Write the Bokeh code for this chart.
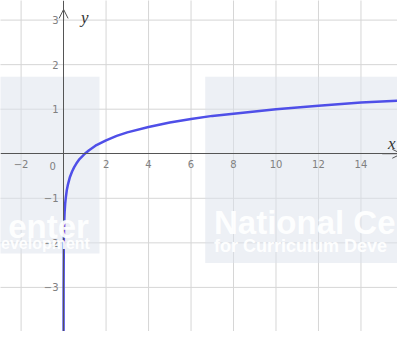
from bokeh.plotting import figure
from bokeh.models import (LinearAxis, FixedTicker, Label, Arrow, OpenHead,
                          ColumnDataSource, Range1d, CustomJSTickFormatter)
from bokeh.embed import file_html
from bokeh.resources import INLINE

# ---- data (curve y = log(x)) ----
curve_x = [0.0001, 0.001, 0.01, 0.02, 0.03, 0.05, 0.075, 0.1, 0.15, 0.2, 0.3,
           0.4, 0.5, 0.6, 0.75, 0.9, 1.0, 1.2, 1.5, 2.0, 2.5, 3.0, 4.0, 5.0,
           6.0, 7.0, 8.0, 10.0, 12.0, 14.0, 16.0]
curve_y = [-4.0, -3.0, -2.0, -1.7, -1.52, -1.3, -1.12, -1.0, -0.82, -0.7,
           -0.52, -0.4, -0.3, -0.22, -0.12, -0.05, 0.0, 0.08, 0.18, 0.3, 0.4,
           0.48, 0.6, 0.7, 0.78, 0.85, 0.9, 1.0, 1.08, 1.15, 1.2]

x_ticks = [-2, 2, 4, 6, 8, 10, 12, 14]
y_ticks = [-3, -2, -1, 1, 2, 3]
x_grid = [-2, 2, 4, 6, 8, 10, 12, 14]
y_grid = [-3, -2, -1, 1, 2, 3]

# watermark texts as visible in the picture
wm_texts = ["National Ce", "for Curriculum Deve", "enter", "evelopment"]

W, H = 397, 331
p = figure(width=W, height=H, output_backend="svg", toolbar_location=None,
           x_range=Range1d(-2.97, 15.72), y_range=Range1d(-3.99, 3.44),
           x_axis_type=None, y_axis_type=None, min_border=0,
           background_fill_color="white", border_fill_color="white")
p.outline_line_color = None
p.xgrid.visible = False
p.ygrid.visible = False

grid_col = "#d6d6d6"
p.segment(x0=x_grid, x1=x_grid, y0=[-5] * len(x_grid), y1=[5] * len(x_grid),
          line_color=grid_col, line_width=1)
p.segment(x0=[-4] * len(y_grid), x1=[17] * len(y_grid), y0=y_grid, y1=y_grid,
          line_color=grid_col, line_width=1)

# watermark (light overlay)
p.quad(left=[6.67, -4], right=[17, 1.69], top=[1.73, 1.73], bottom=[-2.45, -2.24],
       fill_color="#dce1ec", fill_alpha=0.5, line_color=None)
wm = dict(text_color="white", text_font_style="bold", text_alpha=0.95,
          text_font="Liberation Sans", text_baseline="alphabetic")
p.add_layout(Label(x=7.08, y=-1.55, text=wm_texts[0], text_font_size="33px", **wm))
p.add_layout(Label(x=7.08, y=-2.06, text=wm_texts[1], text_font_size="18px", **wm))
p.add_layout(Label(x=1.19, y=-1.63, text=wm_texts[2], text_font_size="33px",
                   text_align="right", **wm))
p.add_layout(Label(x=1.24, y=-2.02, text=wm_texts[3], text_font_size="16px",
                   text_align="right", **wm))

# axes through the origin
lab_style = dict(major_label_text_font="DejaVu Sans", major_label_text_font_size="10px",
                 major_label_text_color="#808080", axis_line_color="#555555",
                 major_tick_in=0, major_tick_out=0, minor_tick_in=0, minor_tick_out=0)
fmt = "return tick < 0 ? '\u2212' + Math.abs(tick) : '' + tick;"
xa = LinearAxis(fixed_location=0, ticker=FixedTicker(ticks=x_ticks), **lab_style)
xa.major_label_standoff = 6
xa.formatter = CustomJSTickFormatter(code=fmt)
ya = LinearAxis(fixed_location=0, ticker=FixedTicker(ticks=y_ticks), **lab_style)
ya.major_label_standoff = 5
ya.formatter = CustomJSTickFormatter(code=fmt)
p.add_layout(xa, "below")
p.add_layout(ya, "left")

p.add_layout(Label(x=0, y=0, x_offset=-11, y_offset=-12, text="0",
                   text_font="DejaVu Sans", text_font_size="10px",
                   text_color="#808080", text_align="center", text_baseline="middle"))

p.add_layout(Arrow(end=OpenHead(size=9, line_color="#555555", line_width=1),
                   x_start=0, y_start=3.0, x_end=0, y_end=3.24,
                   line_color="#555555", line_width=1))
p.add_layout(Arrow(end=OpenHead(size=9, line_color="#555555", line_width=1),
                   x_start=15.0, y_start=0, x_end=15.9, y_end=0,
                   line_color="#555555", line_width=1))

p.add_layout(Label(x=1.0, y=3.05, text="y", text_font="Liberation Serif",
                   text_font_style="italic", text_font_size="17px",
                   text_color="#333333", text_baseline="middle", text_align="center"))
p.add_layout(Label(x=15.45, y=0.22, text="x", text_font="Liberation Serif",
                   text_font_style="italic", text_font_size="17px",
                   text_color="#333333", text_baseline="middle", text_align="center"))

src = ColumnDataSource(dict(x=curve_x, y=curve_y))
p.line("x", "y", source=src, line_color="#4f4fe8", line_width=2.5)

open("out.html", "w").write(file_html(p, INLINE))
